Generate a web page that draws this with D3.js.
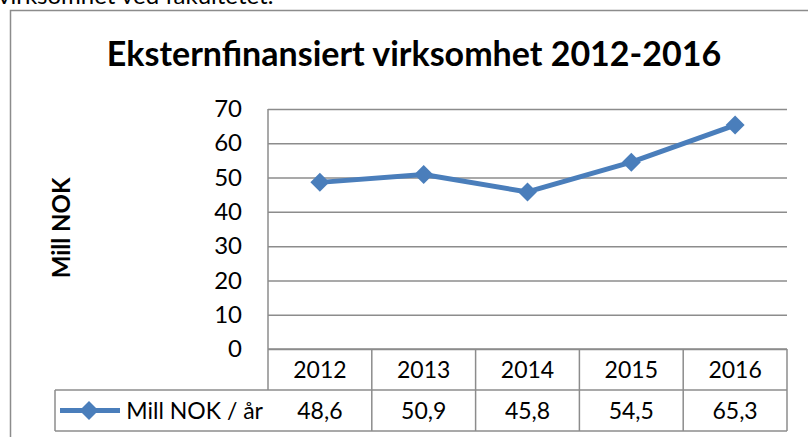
<!DOCTYPE html>
<html>
<head>
<meta charset="utf-8">
<script src="https://cdn.jsdelivr.net/npm/d3@7"></script>
<style>
  body { margin: 0; background: #fff; }
  text { font-family: Lato, "Open Sans", sans-serif; fill: #000; }
</style>
</head>
<body>
<div class="dgraph"></div>
<script>
// data
var years = ["2012", "2013", "2014", "2015", "2016"];
var values = [48.6, 50.9, 45.8, 54.5, 65.3];
var valueLabels = ["48,6", "50,9", "45,8", "54,5", "65,3"];
var yTicks = [0, 10, 20, 30, 40, 50, 60, 70];
var seriesName = "Mill NOK / år";

var width = 808, height = 437;
var blue = "#4a7ebb", grid = "#8c8c8c";

var svg = d3.select("body .dgraph").append("svg")
    .attr("width", width).attr("height", height);

// bit of document text cut off above the chart
svg.append("text")
    .attr("x", -2).attr("y", 4)
    .style("font-size", "24px")
    .text("virksomhet ved fakultetet.");

// chart frame (cropped on right/bottom)
svg.append("path")
    .attr("d", "M10.5," + height + "V10.5H" + width)
    .attr("fill", "none").attr("stroke", grid).attr("stroke-width", 1.5);

// scales
var x = d3.scaleBand().domain(years).range([268, 787]);
var y = d3.scaleLinear().domain([0, 70]).range([349, 109]);

// title
svg.append("text")
    .attr("x", 414).attr("y", 66)
    .attr("text-anchor", "middle")
    .style("font-size", "34px").style("font-weight", "bold")
    .text("Eksternfinansiert virksomhet 2012-2016");

// y axis title
svg.append("text")
    .attr("transform", "translate(70,228) rotate(-90)")
    .attr("text-anchor", "middle")
    .style("font-size", "24px").style("font-weight", "bold")
    .text("Mill NOK");

// gridlines + tick labels
var yAxis = d3.axisLeft(y).tickValues(yTicks)
    .tickSize(-(787 - 268)).tickPadding(26)
    .tickFormat(d3.format("d"));
var ga = svg.append("g").attr("transform", "translate(268,0)").call(yAxis);
ga.select(".domain").remove();
ga.selectAll(".tick line").attr("stroke", grid).attr("stroke-width", 1.5);
ga.selectAll(".tick text").style("font-size", "24px")
    .attr("font-family", null).attr("fill", "#000");

// vertical axis line
svg.append("line")
    .attr("x1", 268).attr("x2", 268)
    .attr("y1", y(70)).attr("y2", 390)
    .attr("stroke", grid).attr("stroke-width", 1.5);

// data table
var rowTop = 349, rowMid = 390, rowBot = 431, legLeft = 55;
var tbl = svg.append("g").attr("fill", "none").attr("stroke", grid).attr("stroke-width", 1.5);
tbl.append("line").attr("x1", 268).attr("x2", 787).attr("y1", rowTop).attr("y2", rowTop);
tbl.append("line").attr("x1", legLeft).attr("x2", 787).attr("y1", rowMid).attr("y2", rowMid);
tbl.append("line").attr("x1", legLeft).attr("x2", 787).attr("y1", rowBot).attr("y2", rowBot);
tbl.append("line").attr("x1", legLeft).attr("x2", legLeft).attr("y1", rowMid).attr("y2", rowBot);
tbl.selectAll(".col").data(years).enter().append("line")
    .attr("x1", function(d){ return x(d) + x.bandwidth(); })
    .attr("x2", function(d){ return x(d) + x.bandwidth(); })
    .attr("y1", rowTop).attr("y2", rowBot);

svg.selectAll(".yr").data(years).enter().append("text")
    .attr("x", function(d){ return x(d) + x.bandwidth() / 2; })
    .attr("y", (rowTop + rowMid) / 2).attr("dy", "0.35em")
    .attr("text-anchor", "middle").style("font-size", "23px")
    .text(function(d){ return d; });

svg.selectAll(".val").data(valueLabels).enter().append("text")
    .attr("x", function(d, i){ return x(years[i]) + x.bandwidth() / 2; })
    .attr("y", (rowMid + rowBot) / 2).attr("dy", "0.35em")
    .attr("text-anchor", "middle").style("font-size", "23px")
    .text(function(d){ return d; });

// legend key inside table
var diamond = d3.symbol().type(d3.symbolDiamond2).size(230);
var ly = (rowMid + rowBot) / 2;
svg.append("line").attr("x1", 60).attr("x2", 120).attr("y1", ly).attr("y2", ly)
    .attr("stroke", blue).attr("stroke-width", 5);
svg.append("path").attr("d", diamond).attr("fill", blue)
    .attr("transform", "translate(89," + ly + ")");
svg.append("text").attr("x", 263).attr("y", ly).attr("dy", "0.35em")
    .attr("text-anchor", "end").style("font-size", "23px")
    .text(seriesName);

// line
var line = d3.line()
    .x(function(d, i){ return x(years[i]) + x.bandwidth() / 2; })
    .y(function(d){ return y(d); });
svg.append("path").datum(values)
    .attr("d", line).attr("fill", "none")
    .attr("stroke", blue).attr("stroke-width", 5).attr("stroke-linejoin", "round");

svg.selectAll(".pt").data(values).enter().append("path")
    .attr("d", diamond).attr("fill", blue)
    .attr("transform", function(d, i){
        return "translate(" + (x(years[i]) + x.bandwidth() / 2) + "," + y(d) + ")";
    });
</script>
</body>
</html>
